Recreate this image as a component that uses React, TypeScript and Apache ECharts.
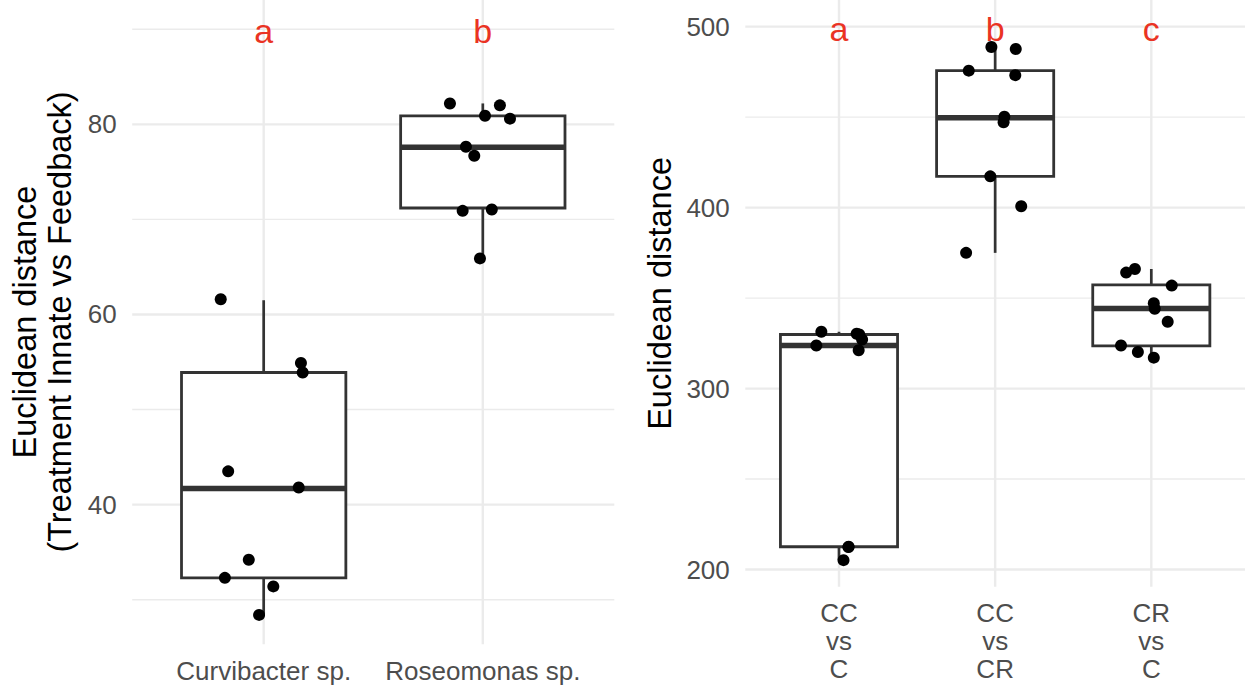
import React, { useEffect, useRef } from "react";
import * as echarts from "echarts";

// ---------------- Data ----------------
const leftCategories = ["Curvibacter sp.", "Roseomonas sp."];
const curvibacterValues = [61.6, 54.9, 53.9, 43.5, 41.8, 34.2, 32.3, 31.4, 28.4];
const curvibacterJitter = [-0.196, 0.17, 0.178, -0.162, 0.16, -0.068, -0.177, 0.044, -0.021];
const roseomonasValues = [82.2, 82.0, 80.9, 80.6, 77.65, 76.7, 70.9, 71.05, 65.9];
const roseomonasJitter = [-0.15, 0.078, 0.01, 0.124, -0.077, -0.039, -0.092, 0.041, -0.013];
// [lower whisker, Q1, median, Q3, upper whisker]
const curvibacterBox = [28.4, 32.3, 41.7, 53.9, 61.5];
const roseomonasBox = [65.9, 71.2, 77.6, 80.9, 82.2];
const leftLetters = ["a", "b"];
const leftLetterY = 90;
const leftMajorTicks = [40, 60, 80];
const leftMinorTicks = [30, 50, 70, 90];

const rightCategories = ["CC\nvs\nC", "CC\nvs\nCR", "CR\nvs\nC"];
const ccVsCValues = [331.4, 330.3, 329.9, 327.1, 323.8, 321.2, 212.6, 212.4, 205.2];
const ccVsCJitter = [-0.113, 0.113, 0.13, 0.148, -0.145, 0.126, 0.062, 0.06, 0.029];
const ccVsCRValues = [488.8, 487.7, 475.7, 473.2, 450.2, 447.2, 417.3, 400.8, 375.0];
const ccVsCRJitter = [-0.024, 0.132, -0.169, 0.129, 0.059, 0.054, -0.031, 0.167, -0.186];
const crVsCValues = [364.1, 366.1, 356.9, 347.2, 344.1, 336.9, 323.8, 320.2, 317.1];
const crVsCJitter = [-0.161, -0.105, 0.131, 0.016, 0.022, 0.105, -0.194, -0.086, 0.016];
const ccVsCBox = [205.2, 212.6, 323.8, 329.9, 331.4];
const ccVsCRBox = [375.0, 417.3, 449.6, 475.7, 488.8];
const crVsCBox = [317.1, 323.6, 344.3, 357.3, 366.1];
const rightLetters = ["a", "b", "c"];
const rightLetterY = 500;
const rightMajorTicks = [200, 300, 400, 500];
const rightMinorTicks = [250, 350, 450];

const leftTitle = "Euclidean distance\n(Treatment Innate vs Feedback)";
const rightTitle = "Euclidean distance";

// ---------------- Styles ----------------
const FONT = '"Liberation Sans", Arial, Helvetica, sans-serif';
const GRID_COLOR = "#EBEBEB";
const TICK_COLOR = "#4D4D4D";
const BOX_COLOR = "#333333";
const LETTER_COLOR = "#EA3323";

function expandRange(vals: number[]): [number, number] {
  const mn = Math.min(...vals);
  const mx = Math.max(...vals);
  const pad = (mx - mn) * 0.05;
  return [mn - pad, mx + pad];
}

function frameRenderer(
  categories: string[],
  major: number[],
  minor: number[],
  letters: string[],
  letterY: number
) {
  return (params: any, api: any) => {
    const cs = params.coordSys;
    const left = cs.x;
    const right = cs.x + cs.width;
    const top = cs.y;
    const bottom = cs.y + cs.height;
    const children: any[] = [];
    minor.forEach((v) => {
      const y = api.coord([0, v])[1];
      children.push({
        type: "line",
        shape: { x1: left, y1: y, x2: right, y2: y },
        style: { stroke: GRID_COLOR, lineWidth: 1.4 },
      });
    });
    major.forEach((v) => {
      const y = api.coord([0, v])[1];
      children.push({
        type: "line",
        shape: { x1: left, y1: y, x2: right, y2: y },
        style: { stroke: GRID_COLOR, lineWidth: 2.4 },
      });
      children.push({
        type: "text",
        x: left - 15.5,
        y: y,
        style: {
          text: String(v),
          fill: TICK_COLOR,
          fontSize: 26,
          fontFamily: FONT,
          align: "right",
          textAlign: "right",
          verticalAlign: "middle",
          textVerticalAlign: "middle",
        },
      });
    });
    categories.forEach((c, i) => {
      const x = api.coord([i, major[0]])[0];
      children.push({
        type: "line",
        shape: { x1: x, y1: top, x2: x, y2: bottom },
        style: { stroke: GRID_COLOR, lineWidth: 2.4 },
      });
      children.push({
        type: "text",
        x: x,
        y: bottom + 12.6,
        style: {
          text: c,
          fill: TICK_COLOR,
          fontSize: 26,
          fontFamily: FONT,
          lineHeight: 28,
          align: "center",
          textAlign: "center",
          verticalAlign: "top",
          textVerticalAlign: "top",
        },
      });
    });
    letters.forEach((l, i) => {
      const p = api.coord([i, letterY]);
      children.push({
        type: "text",
        x: p[0],
        y: p[1] + 2,
        z2: 10,
        style: {
          text: l,
          fill: LETTER_COLOR,
          fontSize: 34,
          fontFamily: FONT,
          align: "center",
          textAlign: "center",
          verticalAlign: "middle",
          textVerticalAlign: "middle",
        },
      });
    });
    return { type: "group", children };
  };
}

function boxRenderer(params: any, api: any) {
  const i = api.value(0);
  const lo = api.coord([i, api.value(1)]);
  const q1 = api.coord([i, api.value(2)]);
  const med = api.coord([i, api.value(3)]);
  const q3 = api.coord([i, api.value(4)]);
  const hi = api.coord([i, api.value(5)]);
  const halfW = api.size([0.75, 0])[0] / 2;
  const cx = med[0];
  return {
    type: "group",
    children: [
      {
        type: "line",
        shape: { x1: cx, y1: hi[1], x2: cx, y2: q3[1] },
        style: { stroke: BOX_COLOR, lineWidth: 2.7 },
      },
      {
        type: "line",
        shape: { x1: cx, y1: q1[1], x2: cx, y2: lo[1] },
        style: { stroke: BOX_COLOR, lineWidth: 2.7 },
      },
      {
        type: "rect",
        shape: { x: cx - halfW, y: q3[1], width: halfW * 2, height: q1[1] - q3[1] },
        style: { fill: "#ffffff", stroke: BOX_COLOR, lineWidth: 2.8 },
      },
      {
        type: "line",
        shape: { x1: cx - halfW, y1: med[1], x2: cx + halfW, y2: med[1] },
        style: { stroke: BOX_COLOR, lineWidth: 5.5 },
      },
    ],
  };
}

function jitterData(groups: number[][], jitters: number[][]) {
  const out: number[][] = [];
  groups.forEach((vals, i) => {
    vals.forEach((v, k) => out.push([i + jitters[i][k], v]));
  });
  return out;
}

export default function App() {
  const ref = useRef<HTMLDivElement>(null);
  useEffect(() => {
    if (!ref.current) return;
    const chart = echarts.init(ref.current, undefined, { renderer: "svg" });

    const leftGroups = [curvibacterValues, roseomonasValues];
    const leftJitters = [curvibacterJitter, roseomonasJitter];
    const leftBoxes = [curvibacterBox, roseomonasBox];
    const rightGroups = [ccVsCValues, ccVsCRValues, crVsCValues];
    const rightJitters = [ccVsCJitter, ccVsCRJitter, crVsCJitter];
    const rightBoxes = [ccVsCBox, ccVsCRBox, crVsCBox];

    const leftRange = expandRange([...curvibacterValues, ...roseomonasValues, leftLetterY]);
    const rightRange = expandRange([...ccVsCValues, ...ccVsCRValues, ...crVsCValues, rightLetterY]);

    const option: any = {
      animation: false,
      backgroundColor: "#ffffff",
      grid: [
        { left: 132.2, top: 0, width: 482.1, height: 644.2, containLabel: false },
        { left: 745.3, top: 0, width: 502.4, height: 586.8, containLabel: false },
      ],
      xAxis: [
        { type: "value", gridIndex: 0, min: -0.6, max: leftCategories.length - 0.4, show: false },
        { type: "value", gridIndex: 1, min: -0.6, max: rightCategories.length - 0.4, show: false },
      ],
      yAxis: [
        { type: "value", gridIndex: 0, min: leftRange[0], max: leftRange[1], show: false },
        { type: "value", gridIndex: 1, min: rightRange[0], max: rightRange[1], show: false },
      ],
      graphic: [
        {
          type: "text",
          x: 42.6,
          y: 322,
          rotation: Math.PI / 2,
          style: {
            text: leftTitle,
            fill: "#000000",
            fontSize: 32.5,
            fontFamily: FONT,
            lineHeight: 34.8,
            align: "center",
            textAlign: "center",
            verticalAlign: "middle",
            textVerticalAlign: "middle",
          },
        },
        {
          type: "text",
          x: 660,
          y: 293.4,
          rotation: Math.PI / 2,
          style: {
            text: rightTitle,
            fill: "#000000",
            fontSize: 32.5,
            fontFamily: FONT,
            align: "center",
            textAlign: "center",
            verticalAlign: "middle",
            textVerticalAlign: "middle",
          },
        },
      ],
      series: [
        {
          type: "custom",
          xAxisIndex: 0,
          yAxisIndex: 0,
          silent: true,
          z: 1,
          clip: false,
          data: [[0, leftMajorTicks[0]]],
          encode: { x: 0, y: 1 },
          renderItem: frameRenderer(leftCategories, leftMajorTicks, leftMinorTicks, leftLetters, leftLetterY),
        },
        {
          type: "custom",
          xAxisIndex: 1,
          yAxisIndex: 1,
          silent: true,
          z: 1,
          clip: false,
          data: [[0, rightMajorTicks[0]]],
          encode: { x: 0, y: 1 },
          renderItem: frameRenderer(rightCategories, rightMajorTicks, rightMinorTicks, rightLetters, rightLetterY),
        },
        {
          type: "custom",
          xAxisIndex: 0,
          yAxisIndex: 0,
          silent: true,
          z: 2,
          data: leftBoxes.map((b, i) => [i, ...b]),
          encode: { x: 0, y: [1, 2, 3, 4, 5] },
          renderItem: boxRenderer,
        },
        {
          type: "custom",
          xAxisIndex: 1,
          yAxisIndex: 1,
          silent: true,
          z: 2,
          data: rightBoxes.map((b, i) => [i, ...b]),
          encode: { x: 0, y: [1, 2, 3, 4, 5] },
          renderItem: boxRenderer,
        },
        {
          type: "scatter",
          xAxisIndex: 0,
          yAxisIndex: 0,
          z: 3,
          symbol: "circle",
          symbolSize: 12,
          itemStyle: { color: "#000000", opacity: 1 },
          data: jitterData(leftGroups, leftJitters),
        },
        {
          type: "scatter",
          xAxisIndex: 1,
          yAxisIndex: 1,
          z: 3,
          symbol: "circle",
          symbolSize: 12,
          itemStyle: { color: "#000000", opacity: 1 },
          data: jitterData(rightGroups, rightJitters),
        },
      ],
    };
    chart.setOption(option);
    return () => chart.dispose();
  }, []);
  return (
    <div
      ref={ref}
      style={{ position: "fixed", left: 0, top: 0, width: 1245, height: 685, background: "#ffffff" }}
    />
  );
}
